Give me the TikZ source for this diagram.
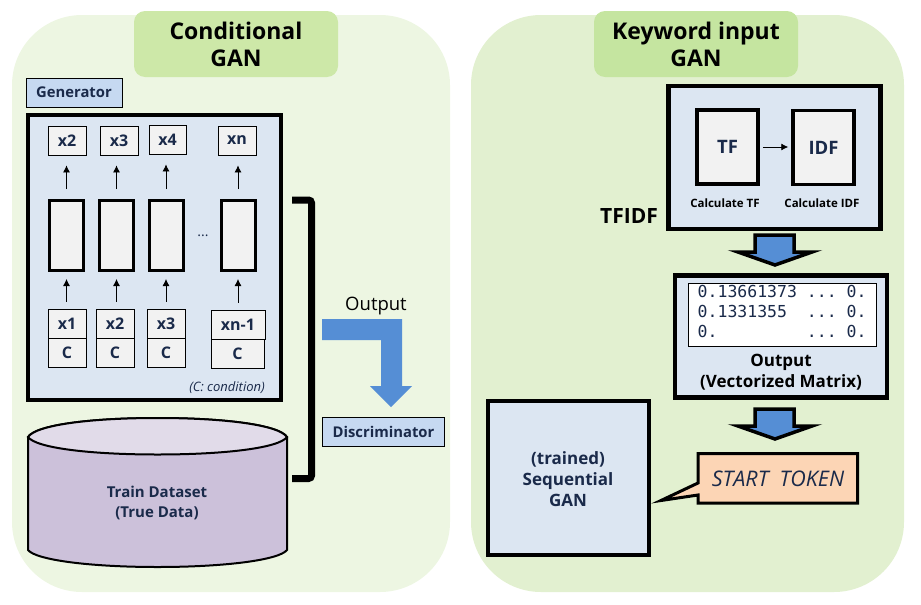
\documentclass[tikz,border=0pt]{standalone}
\usepackage{fontspec}
\setmainfont{Open Sans}
\setmonofont{DejaVu Sans Mono}
\usetikzlibrary{arrows.meta}
\definecolor{panelL}{HTML}{EDF6E2}
\definecolor{panelR}{HTML}{E2F0D0}
\definecolor{titleL}{HTML}{CDE8A8}
\definecolor{titleR}{HTML}{C5E5A0}
\definecolor{lightblue}{HTML}{C6D9F1}
\definecolor{paleblue}{HTML}{DCE6F2}
\definecolor{cellgray}{HTML}{F2F2F2}
\definecolor{arrowblue}{HTML}{558ED5}
\definecolor{navy}{HTML}{1A2A4A}
\definecolor{dbside}{HTML}{CCC1DA}
\definecolor{dbtop}{HTML}{E1DBE9}
\definecolor{tokenfill}{HTML}{FCD5B5}
\begin{document}
\begin{tikzpicture}[%
      x=1pt, y=-1pt,
      every node/.style={align=center, inner sep=0pt, text=navy},
      panel/.style={rounded corners=70pt},
      title/.style={rounded corners=11pt, text=black, font={\fontsize{23}{27}\selectfont\bfseries},
                    minimum width=204pt, minimum height=66pt},
      tag/.style={draw=black, line width=0.8pt, fill=lightblue, font={\fontsize{14.8}{16}\selectfont\bfseries},
                  minimum height=29pt},
      token/.style={draw=black, line width=0.8pt, fill=cellgray, font={\fontsize{16}{16}\selectfont\bfseries},
                    minimum width=38pt, minimum height=29pt},
      cell/.style={draw=black, line width=3pt, fill=cellgray, minimum width=34pt, minimum height=70pt},
      frame/.style={draw=black, line width=4.5pt, fill=paleblue},
      calcbox/.style={draw=black, line width=3.5pt, fill=cellgray, minimum width=61pt, minimum height=74pt,
                      font={\fontsize{18.5}{20}\selectfont\bfseries}},
      upar/.style={-{Latex[length=7pt,width=7pt]}, line width=0.8pt},
      blockar/.style={draw=black, line width=3.5pt, fill=arrowblue, line join=miter},
      caption/.style={text=black, font={\fontsize{11.5}{13}\selectfont\bfseries}}
    ]
    \useasboundingbox (0,0) rectangle (921,605);

    \fill [panelL, panel] (12,15) rectangle (450,592);
    \fill [panelR, panel] (471,15) rectangle (904,592);
    \node [title, fill=titleL] (title gan) at (236,44) {Conditional\\GAN};
    \node [title, fill=titleR] (title key) at (696,44) {Keyword input\\GAN};

    \node [tag, minimum width=96pt] (generator) at (74,92.5) {Generator};
    \node [frame, minimum width=253pt, minimum height=285pt] (gen box) at (154.5,257.5) {};

    \node [token] (out1) at (67,140.5) {x2};
    \node [token] (out2) at (119,140.5) {x3};
    \node [token, minimum width=37pt] (out3) at (167.5,139.5) {x4};
    \node [token] (out4) at (237,140.5) {xn};

    \node [cell] (cell1) at (66.5,235.5) {};
    \node [cell] (cell2) at (116.5,235.5) {};
    \node [cell] (cell3) at (166,235.5) {};
    \node [cell] (cell4) at (238,235.5) {};
    \node [font={\fontsize{14}{16}\selectfont}] (dots) at (203,236) {...};

    \node [token] (in1) at (67,323.5) {x1};
    \node [token] (cond1) at (67,352.5) {C};
    \node [token] (in2) at (115,323.5) {x2};
    \node [token] (cond2) at (115,352.5) {C};
    \node [token] (in3) at (166,323.5) {x3};
    \node [token] (cond3) at (166,352.5) {C};
    \node [token, minimum width=54pt] (in4) at (238,324.5) {xn-1};
    \node [token, minimum width=53pt] (cond4) at (237.5,353.5) {C};

    \foreach \i in {1,...,4} {
      \draw [upar, shorten >=7pt, shorten <=7pt] (in\i.north -| cell\i.south) -- (cell\i.south);
      \draw [upar, shorten >=10pt, shorten <=10pt] (cell\i.north) -- (cell\i.north |- out\i.south);
    }

    \node [anchor=east, font={\fontsize{13}{14}\selectfont\itshape}] (cond note) at (265,388) {(C: condition)};

    \draw [line width=2pt, fill=dbside] (28,437) -- (28,550)
      .. controls (36,560) and (90,567) .. (157.5,567)
      .. controls (225,567) and (279,560) .. (287,550) -- (287,437)
      .. controls (279,425) and (225,418) .. (157.5,418)
      .. controls (90,418) and (36,425) .. (28,437) -- cycle;
    \draw [line width=2pt, fill=dbtop] (28,437)
      .. controls (36,448) and (90,454.5) .. (157.5,454.5)
      .. controls (225,454.5) and (279,448) .. (287,437)
      .. controls (279,425) and (225,418) .. (157.5,418)
      .. controls (90,418) and (36,425) .. (28,437) -- cycle;
    \node [font={\fontsize{15}{19.5}\selectfont\bfseries}] (train) at (157,503) {Train Dataset\\(True Data)};

    \draw [line width=7pt, rounded corners=3pt] (292,200) -- (311.5,200) -- (311.5,478.5) -- (292,478.5);
    \node [text=black, font={\fontsize{18.5}{20}\selectfont}] (output label) at (376,306) {Output};
    \fill [arrowblue] (322,319) -- (402,319) -- (402,386) -- (412,386) -- (391,407) -- (370,386)
      -- (381,386) -- (381,340) -- (322,340) -- cycle;
    \node [tag, minimum width=122pt] (discriminator) at (383.5,432) {Discriminator};

    \node [frame, minimum width=212pt, minimum height=143pt] (tfidf box) at (774.5,157.5) {};
    \node [calcbox] (tf) at (727.5,147) {TF};
    \node [calcbox] (idf) at (823.5,147.5) {IDF};
    \draw [upar, shorten >=3pt, shorten <=3pt] (tf.east) -- (tf.east -| idf.west);
    \node [caption] (tf text) at (725,203) {Calculate TF};
    \node [caption] (idf text) at (822,203) {Calculate IDF};
    \node [text=black, font={\fontsize{21}{24}\selectfont\bfseries}] (tfidf text) at (629,216) {TFIDF};

    \draw [blockar] (755,235) -- (794,235) -- (794,252) -- (812,252) -- (775,265) -- (738,252) -- (755,252) -- cycle;

    \node [frame, minimum width=212pt, minimum height=122pt] (output box) at (781,336.5) {};
    \node [draw=black, fill=white, line width=0.8pt, minimum width=188pt, minimum height=63pt] (matrix box) at (782,314.5) {};
    \node [anchor=west, align=left, font={\fontsize{16.5}{20}\selectfont\ttfamily}] (matrix text) at (697.5,311)
      {0.13661373 ... 0.\\0.1331355\ \ ... 0.\\0.\ \ \ \ \ \ \ \ \ ... 0.};
    \node [text=black, font={\fontsize{17}{21}\selectfont\bfseries}] (output text) at (781,372) {Output\\(Vectorized Matrix)};

    \draw [blockar] (755,409) -- (794,409) -- (794,426) -- (812,426) -- (775,439) -- (738,426) -- (755,426) -- cycle;

    \node [frame, minimum width=161pt, minimum height=154pt] (seq box) at (568.5,478) {};
    \node [font={\fontsize{17}{21}\selectfont\bfseries}] (seq text) at (568,479.5) {(trained)\\Sequential\\GAN};

    \draw [line width=3pt, fill=tokenfill, line join=miter] (698,453.5) -- (857.5,453.5) -- (857.5,503) -- (698,503)
      -- (698,495) -- (661,500.5) -- (698,483) -- cycle;
    \node [font={\fontsize{21.5}{24}\selectfont\itshape}] (start token) at (778,479) {START\ \ TOKEN};
\end{tikzpicture}
\end{document}
